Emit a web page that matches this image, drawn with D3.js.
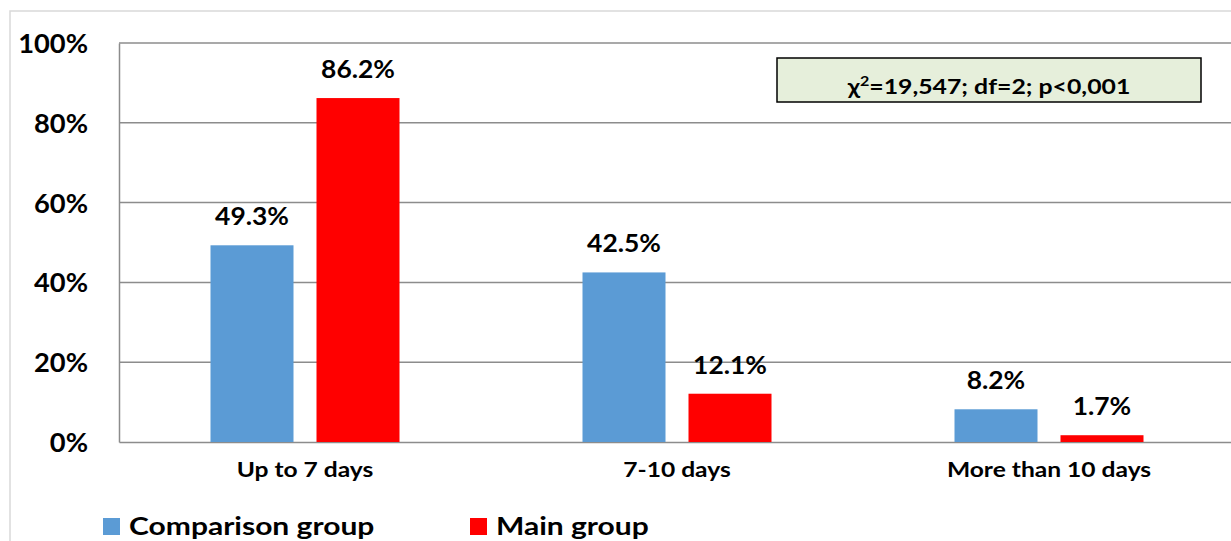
<!DOCTYPE html>
<html><head><meta charset="utf-8">
<script src="https://cdn.jsdelivr.net/npm/d3@7"></script>
<style>
html,body{margin:0;padding:0;background:#fff;overflow:hidden}
text{font-family:Lato,"Open Sans",sans-serif;font-weight:bold;fill:#000}
</style></head><body>
<svg id="c" width="1231" height="541"></svg>
<script>
const categories = ["Up to 7 days", "7-10 days", "More than 10 days"];
const seriesNames = ["Comparison group", "Main group"];
const comparisonValues = [49.3, 42.5, 8.2];
const mainValues = [86.2, 12.1, 1.7];
const yTicks = [0, 20, 40, 60, 80, 100];
const colors = ["#5b9bd5", "#ff0000"];
const statText = ["χ", "2", "=19,547; df=2; p<0,001"];

const svg = d3.select("#c");
const x0 = d3.scaleBand().domain(categories).range([119, 1235]).paddingInner(0).paddingOuter(0);
const y = d3.scaleLinear().domain([0, 100]).range([442, 43]);
const x1 = d3.scaleBand().domain(seriesNames).range([91.5, 372 - 91.5]).paddingInner(23/106).paddingOuter(0);

// horizontal stretch helper (keeps anchor point)
function stretch(sel, sx) {
  sel.each(function() {
    const t = d3.select(this);
    const x = +(t.attr("x") || 0);
    t.attr("x", x / sx).attr("transform", `scale(${sx},1)`);
  });
}

// outer border
svg.append("rect").attr("x", 10).attr("y", 11).attr("width", 1240).attr("height", 560)
  .attr("fill", "none").attr("stroke", "#d9d9d9").attr("stroke-width", 1.5);

// gridlines
svg.append("g").selectAll("line").data(yTicks.filter(d => d > 0)).join("line")
  .attr("x1", 119).attr("x2", 1235).attr("y1", d => y(d)).attr("y2", d => y(d))
  .attr("stroke", "#8c8c8c").attr("stroke-width", 1.5);

// y axis
const yAxis = svg.append("g").attr("transform", "translate(119,0)")
  .call(d3.axisLeft(y).tickValues(yTicks).tickFormat(d => d + "%").tickSize(0).tickPadding(31));
yAxis.select(".domain").attr("stroke", "#8c8c8c").attr("stroke-width", 1.5);
yAxis.selectAll("text").attr("font-size", 26.5).attr("dy", "0.36em");
stretch(yAxis.selectAll("text"), 1.03);

// x axis
const xAxis = svg.append("g").attr("transform", "translate(0,442)")
  .call(d3.axisBottom(x0).tickSize(0));
xAxis.select(".domain").attr("stroke", "#8c8c8c").attr("stroke-width", 1.5);
xAxis.selectAll("text").attr("font-size", 20.5).attr("y", 35).attr("dy", 0);
stretch(xAxis.selectAll("text"), 1.2);

const data = categories.map((c, i) => ({cat: c, vals: [comparisonValues[i], mainValues[i]]}));
const g = svg.append("g").selectAll("g").data(data).join("g")
  .attr("transform", d => `translate(${x0(d.cat)},0)`);
g.selectAll("rect").data(d => d.vals.map((v, j) => ({s: seriesNames[j], v, j}))).join("rect")
  .attr("x", d => x1(d.s)).attr("width", x1.bandwidth())
  .attr("y", d => y(d.v)).attr("height", d => y(0) - y(d.v))
  .attr("fill", d => colors[d.j]);
const vl = g.selectAll("text.v").data(d => d.vals.map((v, j) => ({s: seriesNames[j], v, j}))).join("text")
  .attr("class", "v").attr("text-anchor", "middle")
  .attr("x", d => x1(d.s) + x1.bandwidth() / 2).attr("y", d => y(d.v) - 20)
  .attr("font-size", 24).text(d => d.v.toFixed(1) + "%");
stretch(vl, 1.1);

// stats box
svg.append("rect").attr("x", 777).attr("y", 58).attr("width", 424).attr("height", 44)
  .attr("fill", "#e6efdb").attr("stroke", "#000").attr("stroke-width", 1.5);
const st = svg.append("text").attr("x", 989).attr("y", 94).attr("text-anchor", "middle").attr("font-size", 20);
st.append("tspan").text(statText[0]);
st.append("tspan").attr("font-size", 13).attr("dy", -8).text(statText[1]);
st.append("tspan").attr("dy", 8).text(statText[2]);
stretch(st, 1.24);

// legend
const leg = svg.append("g");
const lx = [103, 470];
seriesNames.forEach((s, i) => {
  leg.append("rect").attr("x", lx[i]).attr("y", 518).attr("width", 17).attr("height", 17).attr("fill", colors[i]);
  const t = leg.append("text").attr("x", lx[i] + 26).attr("y", 535).attr("font-size", 25).text(s);
  stretch(t, 1.2);
});
</script></body></html>
